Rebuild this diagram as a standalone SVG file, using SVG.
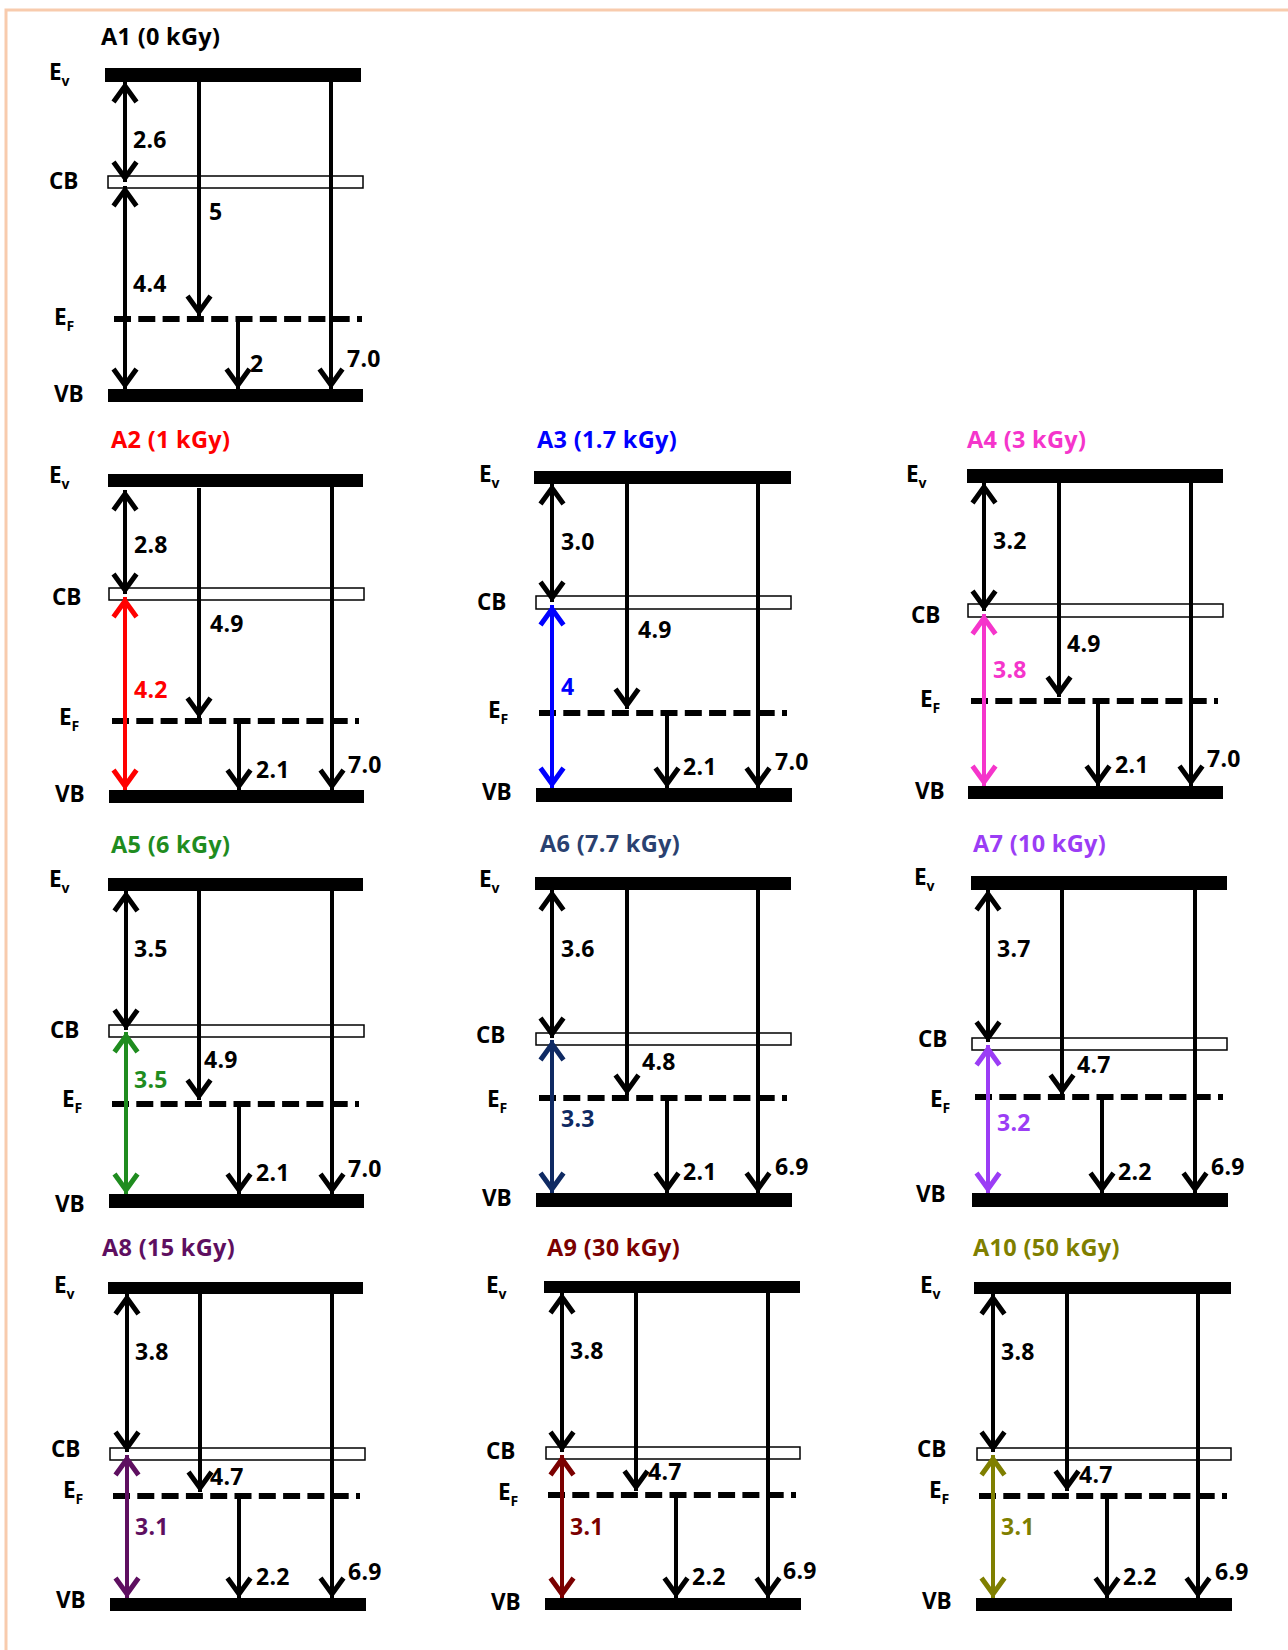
<svg xmlns="http://www.w3.org/2000/svg" width="1288" height="1650" viewBox="0 0 1288 1650">
<style>
.bg{fill:#fff}
.frame{fill:none;stroke:#F8CBAD;stroke-width:3}
.bar{fill:#000}
.cb{fill:#fff;stroke:#000;stroke-width:1.5}
.ef{stroke:#000;stroke-width:6;stroke-dasharray:17 7.3;fill:none}
text{font-family:'Open Sans','Noto Sans','Liberation Sans',sans-serif;font-weight:700;fill:#000}
.lbl{font-size:22.5px}
.sub{font-size:14px}
.ttl{font-size:23.5px;letter-spacing:0.3px}
.val{font-size:23px;letter-spacing:0.3px}
.ar{stroke-width:4;fill:none}
.hd{fill:none;stroke-width:5}
</style>
<defs>
<marker id="mk" viewBox="-24 -14 28 28" refX="0" refY="0" markerWidth="28" markerHeight="28" markerUnits="userSpaceOnUse" orient="auto-start-reverse" overflow="visible"><path class="hd" d="M-20,-11.5 L-4,0 L-20,11.5" stroke="#000"/></marker>
<marker id="mr" viewBox="-24 -14 28 28" refX="0" refY="0" markerWidth="28" markerHeight="28" markerUnits="userSpaceOnUse" orient="auto-start-reverse" overflow="visible"><path class="hd" d="M-20,-11.5 L-4,0 L-20,11.5" stroke="#FF0000"/></marker>
<marker id="mb" viewBox="-24 -14 28 28" refX="0" refY="0" markerWidth="28" markerHeight="28" markerUnits="userSpaceOnUse" orient="auto-start-reverse" overflow="visible"><path class="hd" d="M-20,-11.5 L-4,0 L-20,11.5" stroke="#0000FF"/></marker>
<marker id="mm" viewBox="-24 -14 28 28" refX="0" refY="0" markerWidth="28" markerHeight="28" markerUnits="userSpaceOnUse" orient="auto-start-reverse" overflow="visible"><path class="hd" d="M-20,-11.5 L-4,0 L-20,11.5" stroke="#F535CB"/></marker>
<marker id="mg" viewBox="-24 -14 28 28" refX="0" refY="0" markerWidth="28" markerHeight="28" markerUnits="userSpaceOnUse" orient="auto-start-reverse" overflow="visible"><path class="hd" d="M-20,-11.5 L-4,0 L-20,11.5" stroke="#1F8C1F"/></marker>
<marker id="mn" viewBox="-24 -14 28 28" refX="0" refY="0" markerWidth="28" markerHeight="28" markerUnits="userSpaceOnUse" orient="auto-start-reverse" overflow="visible"><path class="hd" d="M-20,-11.5 L-4,0 L-20,11.5" stroke="#0F2A63"/></marker>
<marker id="mp" viewBox="-24 -14 28 28" refX="0" refY="0" markerWidth="28" markerHeight="28" markerUnits="userSpaceOnUse" orient="auto-start-reverse" overflow="visible"><path class="hd" d="M-20,-11.5 L-4,0 L-20,11.5" stroke="#9B3DF5"/></marker>
<marker id="mdp" viewBox="-24 -14 28 28" refX="0" refY="0" markerWidth="28" markerHeight="28" markerUnits="userSpaceOnUse" orient="auto-start-reverse" overflow="visible"><path class="hd" d="M-20,-11.5 L-4,0 L-20,11.5" stroke="#5E0F60"/></marker>
<marker id="mdr" viewBox="-24 -14 28 28" refX="0" refY="0" markerWidth="28" markerHeight="28" markerUnits="userSpaceOnUse" orient="auto-start-reverse" overflow="visible"><path class="hd" d="M-20,-11.5 L-4,0 L-20,11.5" stroke="#7B0000"/></marker>
<marker id="mo" viewBox="-24 -14 28 28" refX="0" refY="0" markerWidth="28" markerHeight="28" markerUnits="userSpaceOnUse" orient="auto-start-reverse" overflow="visible"><path class="hd" d="M-20,-11.5 L-4,0 L-20,11.5" stroke="#7F7F00"/></marker>
</defs>
<rect class="bg" x="0" y="0" width="1288" height="1650"/>
<rect class="frame" x="6" y="10" width="1300" height="1660"/>

<!-- A1 -->
<g id="a1">
<text class="ttl" x="101" y="45">A1 (0 kGy)</text>
<g id="a1-ev"><rect class="bar" x="105" y="68" width="256" height="14"/><text class="lbl" x="49" y="80">E<tspan class="sub" dy="6">v</tspan></text></g>
<g id="a1-cb"><rect class="cb" x="108" y="176" width="255" height="12"/><text class="lbl" x="49" y="189">CB</text></g>
<g id="a1-ef"><line class="ef" x1="114" y1="319" x2="362" y2="319"/><text class="lbl" x="54" y="325">E<tspan class="sub" dy="6">F</tspan></text></g>
<g id="a1-vb"><rect class="bar" x="108" y="389" width="255" height="13"/><text class="lbl" x="54" y="402">VB</text></g>
</g>
<!-- A2 -->
<g id="a2">
<text class="ttl" x="111" y="448" style="fill:#FF0000">A2 (1 kGy)</text>
<g id="a2-ev"><rect class="bar" x="108" y="474" width="255" height="13"/><text class="lbl" x="49" y="483">E<tspan class="sub" dy="6">v</tspan></text></g>
<g id="a2-cb"><rect class="cb" x="109" y="588" width="255" height="12"/><text class="lbl" x="52" y="605">CB</text></g>
<g id="a2-ef"><line class="ef" x1="112" y1="721" x2="359" y2="721"/><text class="lbl" x="59" y="725">E<tspan class="sub" dy="6">F</tspan></text></g>
<g id="a2-vb"><rect class="bar" x="109" y="790" width="255" height="13"/><text class="lbl" x="55" y="802">VB</text></g>
</g>
<!-- A3 -->
<g id="a3">
<text class="ttl" x="537" y="448" style="fill:#0000FF">A3 (1.7 kGy)</text>
<g id="a3-ev"><rect class="bar" x="534" y="471" width="257" height="13"/><text class="lbl" x="479" y="482">E<tspan class="sub" dy="6">v</tspan></text></g>
<g id="a3-cb"><rect class="cb" x="536" y="596" width="255" height="13"/><text class="lbl" x="477" y="610">CB</text></g>
<g id="a3-ef"><line class="ef" x1="539" y1="713" x2="787" y2="713"/><text class="lbl" x="488" y="718">E<tspan class="sub" dy="6">F</tspan></text></g>
<g id="a3-vb"><rect class="bar" x="536" y="788" width="256" height="14"/><text class="lbl" x="482" y="800">VB</text></g>
</g>
<!-- A4 -->
<g id="a4">
<text class="ttl" x="967" y="448" style="fill:#F535CB">A4 (3 kGy)</text>
<g id="a4-ev"><rect class="bar" x="967" y="469" width="256" height="14"/><text class="lbl" x="906" y="482">E<tspan class="sub" dy="6">v</tspan></text></g>
<g id="a4-cb"><rect class="cb" x="968" y="604" width="255" height="13"/><text class="lbl" x="911" y="623">CB</text></g>
<g id="a4-ef"><line class="ef" x1="971" y1="701" x2="1218" y2="701"/><text class="lbl" x="920" y="707">E<tspan class="sub" dy="6">F</tspan></text></g>
<g id="a4-vb"><rect class="bar" x="968" y="786" width="255" height="13"/><text class="lbl" x="915" y="799">VB</text></g>
</g>
<!-- A5 -->
<g id="a5">
<text class="ttl" x="111" y="853" style="fill:#1F8C1F">A5 (6 kGy)</text>
<g id="a5-ev"><rect class="bar" x="108" y="878" width="255" height="13"/><text class="lbl" x="49" y="887">E<tspan class="sub" dy="6">v</tspan></text></g>
<g id="a5-cb"><rect class="cb" x="109" y="1025" width="255" height="12"/><text class="lbl" x="50" y="1038">CB</text></g>
<g id="a5-ef"><line class="ef" x1="112" y1="1104" x2="359" y2="1104"/><text class="lbl" x="62" y="1107">E<tspan class="sub" dy="6">F</tspan></text></g>
<g id="a5-vb"><rect class="bar" x="109" y="1194" width="255" height="14"/><text class="lbl" x="55" y="1212">VB</text></g>
</g>
<!-- A6 -->
<g id="a6">
<text class="ttl" x="540" y="852" style="fill:#2A4170">A6 (7.7 kGy)</text>
<g id="a6-ev"><rect class="bar" x="535" y="877" width="256" height="13"/><text class="lbl" x="479" y="887">E<tspan class="sub" dy="6">v</tspan></text></g>
<g id="a6-cb"><rect class="cb" x="536" y="1033" width="255" height="12"/><text class="lbl" x="476" y="1043">CB</text></g>
<g id="a6-ef"><line class="ef" x1="539" y1="1098" x2="787" y2="1098"/><text class="lbl" x="487" y="1107">E<tspan class="sub" dy="6">F</tspan></text></g>
<g id="a6-vb"><rect class="bar" x="536" y="1193" width="256" height="14"/><text class="lbl" x="482" y="1206">VB</text></g>
</g>
<!-- A7 -->
<g id="a7">
<text class="ttl" x="973" y="852" style="fill:#9B3DF5">A7 (10 kGy)</text>
<g id="a7-ev"><rect class="bar" x="971" y="876" width="256" height="14"/><text class="lbl" x="914" y="885">E<tspan class="sub" dy="6">v</tspan></text></g>
<g id="a7-cb"><rect class="cb" x="972" y="1038" width="255" height="12"/><text class="lbl" x="918" y="1047">CB</text></g>
<g id="a7-ef"><line class="ef" x1="975" y1="1097" x2="1223" y2="1097"/><text class="lbl" x="930" y="1107">E<tspan class="sub" dy="6">F</tspan></text></g>
<g id="a7-vb"><rect class="bar" x="972" y="1193" width="256" height="14"/><text class="lbl" x="916" y="1202">VB</text></g>
</g>
<!-- A8 -->
<g id="a8">
<text class="ttl" x="102" y="1256" style="fill:#5E0F60">A8 (15 kGy)</text>
<g id="a8-ev"><rect class="bar" x="108" y="1282" width="255" height="12"/><text class="lbl" x="54" y="1293">E<tspan class="sub" dy="6">v</tspan></text></g>
<g id="a8-cb"><rect class="cb" x="110" y="1448" width="255" height="12"/><text class="lbl" x="51" y="1457">CB</text></g>
<g id="a8-ef"><line class="ef" x1="113" y1="1496" x2="360" y2="1496"/><text class="lbl" x="63" y="1498">E<tspan class="sub" dy="6">F</tspan></text></g>
<g id="a8-vb"><rect class="bar" x="110" y="1598" width="256" height="13"/><text class="lbl" x="56" y="1608">VB</text></g>
</g>
<!-- A9 -->
<g id="a9">
<text class="ttl" x="547" y="1256" style="fill:#7B0000">A9 (30 kGy)</text>
<g id="a9-ev"><rect class="bar" x="544" y="1281" width="256" height="12"/><text class="lbl" x="486" y="1293">E<tspan class="sub" dy="6">v</tspan></text></g>
<g id="a9-cb"><rect class="cb" x="546" y="1447" width="254" height="12"/><text class="lbl" x="486" y="1459">CB</text></g>
<g id="a9-ef"><line class="ef" x1="548" y1="1495" x2="796" y2="1495"/><text class="lbl" x="498" y="1500">E<tspan class="sub" dy="6">F</tspan></text></g>
<g id="a9-vb"><rect class="bar" x="545" y="1598" width="256" height="12"/><text class="lbl" x="491" y="1610">VB</text></g>
</g>
<!-- A10 -->
<g id="a10">
<text class="ttl" x="973" y="1256" style="fill:#7F7F00">A10 (50 kGy)</text>
<g id="a10-ev"><rect class="bar" x="974" y="1282" width="257" height="12"/><text class="lbl" x="920" y="1293">E<tspan class="sub" dy="6">v</tspan></text></g>
<g id="a10-cb"><rect class="cb" x="977" y="1448" width="254" height="12"/><text class="lbl" x="917" y="1457">CB</text></g>
<g id="a10-ef"><line class="ef" x1="979" y1="1496" x2="1227" y2="1496"/><text class="lbl" x="929" y="1498">E<tspan class="sub" dy="6">F</tspan></text></g>
<g id="a10-vb"><rect class="bar" x="976" y="1598" width="256" height="13"/><text class="lbl" x="922" y="1609">VB</text></g>
</g>

<g id="connectors">
<!-- A1 -->
<line class="ar" x1="125" y1="82" x2="125" y2="182" stroke="#000" marker-start="url(#mk)" marker-end="url(#mk)"/>
<line class="ar" x1="125" y1="186" x2="125" y2="389" stroke="#000" marker-start="url(#mk)" marker-end="url(#mk)"/>
<line class="ar" x1="199" y1="82" x2="199" y2="316" stroke="#000" marker-end="url(#mk)"/>
<line class="ar" x1="238" y1="320" x2="238" y2="389" stroke="#000" marker-end="url(#mk)"/>
<line class="ar" x1="331" y1="82" x2="331" y2="389" stroke="#000" marker-end="url(#mk)"/>
<!-- A2 -->
<line class="ar" x1="125" y1="490" x2="125" y2="594" stroke="#000" marker-start="url(#mk)" marker-end="url(#mk)"/>
<line class="ar" x1="125" y1="597" x2="125" y2="790" stroke="#FF0000" marker-start="url(#mr)" marker-end="url(#mr)"/>
<line class="ar" x1="199" y1="488" x2="199" y2="718" stroke="#000" marker-end="url(#mk)"/>
<line class="ar" x1="239" y1="721" x2="239" y2="790" stroke="#000" marker-end="url(#mk)"/>
<line class="ar" x1="332" y1="487" x2="332" y2="790" stroke="#000" marker-end="url(#mk)"/>
<!-- A3 -->
<line class="ar" x1="552" y1="484" x2="552" y2="602" stroke="#000" marker-start="url(#mk)" marker-end="url(#mk)"/>
<line class="ar" x1="552" y1="605" x2="552" y2="788" stroke="#0000FF" marker-start="url(#mb)" marker-end="url(#mb)"/>
<line class="ar" x1="627" y1="484" x2="627" y2="709" stroke="#000" marker-end="url(#mk)"/>
<line class="ar" x1="667" y1="713" x2="667" y2="788" stroke="#000" marker-end="url(#mk)"/>
<line class="ar" x1="758" y1="484" x2="758" y2="788" stroke="#000" marker-end="url(#mk)"/>
<!-- A4 -->
<line class="ar" x1="984" y1="483" x2="984" y2="611" stroke="#000" marker-start="url(#mk)" marker-end="url(#mk)"/>
<line class="ar" x1="984" y1="614" x2="984" y2="786" stroke="#F535CB" marker-start="url(#mm)" marker-end="url(#mm)"/>
<line class="ar" x1="1059" y1="483" x2="1059" y2="697" stroke="#000" marker-end="url(#mk)"/>
<line class="ar" x1="1098" y1="701" x2="1098" y2="786" stroke="#000" marker-end="url(#mk)"/>
<line class="ar" x1="1191" y1="483" x2="1191" y2="786" stroke="#000" marker-end="url(#mk)"/>
<!-- A5 -->
<line class="ar" x1="126" y1="891" x2="126" y2="1030" stroke="#000" marker-start="url(#mk)" marker-end="url(#mk)"/>
<line class="ar" x1="126" y1="1032" x2="126" y2="1194" stroke="#1F8C1F" marker-start="url(#mg)" marker-end="url(#mg)"/>
<line class="ar" x1="199" y1="891" x2="199" y2="1100" stroke="#000" marker-end="url(#mk)"/>
<line class="ar" x1="239" y1="1104" x2="239" y2="1194" stroke="#000" marker-end="url(#mk)"/>
<line class="ar" x1="332" y1="891" x2="332" y2="1194" stroke="#000" marker-end="url(#mk)"/>
<!-- A6 -->
<line class="ar" x1="552" y1="890" x2="552" y2="1038" stroke="#000" marker-start="url(#mk)" marker-end="url(#mk)"/>
<line class="ar" x1="552" y1="1040" x2="552" y2="1193" stroke="#0F2A63" marker-start="url(#mn)" marker-end="url(#mn)"/>
<line class="ar" x1="627" y1="890" x2="627" y2="1095" stroke="#000" marker-end="url(#mk)"/>
<line class="ar" x1="667" y1="1098" x2="667" y2="1193" stroke="#000" marker-end="url(#mk)"/>
<line class="ar" x1="758" y1="890" x2="758" y2="1193" stroke="#000" marker-end="url(#mk)"/>
<!-- A7 -->
<line class="ar" x1="988" y1="890" x2="988" y2="1042" stroke="#000" marker-start="url(#mk)" marker-end="url(#mk)"/>
<line class="ar" x1="988" y1="1045" x2="988" y2="1193" stroke="#9B3DF5" marker-start="url(#mp)" marker-end="url(#mp)"/>
<line class="ar" x1="1062" y1="890" x2="1062" y2="1095" stroke="#000" marker-end="url(#mk)"/>
<line class="ar" x1="1102" y1="1097" x2="1102" y2="1193" stroke="#000" marker-end="url(#mk)"/>
<line class="ar" x1="1195" y1="890" x2="1195" y2="1193" stroke="#000" marker-end="url(#mk)"/>
<!-- A8 -->
<line class="ar" x1="127" y1="1294" x2="127" y2="1452" stroke="#000" marker-start="url(#mk)" marker-end="url(#mk)"/>
<line class="ar" x1="127" y1="1455" x2="127" y2="1598" stroke="#5E0F60" marker-start="url(#mdp)" marker-end="url(#mdp)"/>
<line class="ar" x1="200" y1="1294" x2="200" y2="1492" stroke="#000" marker-end="url(#mk)"/>
<line class="ar" x1="239" y1="1496" x2="239" y2="1598" stroke="#000" marker-end="url(#mk)"/>
<line class="ar" x1="332" y1="1294" x2="332" y2="1598" stroke="#000" marker-end="url(#mk)"/>
<!-- A9 -->
<line class="ar" x1="562" y1="1293" x2="562" y2="1452" stroke="#000" marker-start="url(#mk)" marker-end="url(#mk)"/>
<line class="ar" x1="562" y1="1455" x2="562" y2="1598" stroke="#7B0000" marker-start="url(#mdr)" marker-end="url(#mdr)"/>
<line class="ar" x1="636" y1="1293" x2="636" y2="1491" stroke="#000" marker-end="url(#mk)"/>
<line class="ar" x1="676" y1="1495" x2="676" y2="1598" stroke="#000" marker-end="url(#mk)"/>
<line class="ar" x1="768" y1="1293" x2="768" y2="1598" stroke="#000" marker-end="url(#mk)"/>
<!-- A10 -->
<line class="ar" x1="993" y1="1294" x2="993" y2="1452" stroke="#000" marker-start="url(#mk)" marker-end="url(#mk)"/>
<line class="ar" x1="993" y1="1455" x2="993" y2="1598" stroke="#7F7F00" marker-start="url(#mo)" marker-end="url(#mo)"/>
<line class="ar" x1="1067" y1="1294" x2="1067" y2="1491" stroke="#000" marker-end="url(#mk)"/>
<line class="ar" x1="1107" y1="1496" x2="1107" y2="1598" stroke="#000" marker-end="url(#mk)"/>
<line class="ar" x1="1198" y1="1294" x2="1198" y2="1598" stroke="#000" marker-end="url(#mk)"/>
</g>

<g id="values">
<text class="val" x="133" y="148">2.6</text>
<text class="val" x="133" y="292">4.4</text>
<text class="val" x="209" y="220">5</text>
<text class="val" x="250" y="372">2</text>
<text class="val" x="347" y="367">7.0</text>

<text class="val" x="134" y="553">2.8</text>
<text class="val" x="134" y="698" style="fill:#FF0000">4.2</text>
<text class="val" x="210" y="632">4.9</text>
<text class="val" x="256" y="778">2.1</text>
<text class="val" x="348" y="773">7.0</text>

<text class="val" x="561" y="550">3.0</text>
<text class="val" x="561" y="695" style="fill:#0000FF">4</text>
<text class="val" x="638" y="638">4.9</text>
<text class="val" x="683" y="775">2.1</text>
<text class="val" x="775" y="770">7.0</text>

<text class="val" x="993" y="549">3.2</text>
<text class="val" x="993" y="678" style="fill:#F535CB">3.8</text>
<text class="val" x="1067" y="652">4.9</text>
<text class="val" x="1115" y="773">2.1</text>
<text class="val" x="1207" y="767">7.0</text>

<text class="val" x="134" y="957">3.5</text>
<text class="val" x="134" y="1088" style="fill:#1F8C1F">3.5</text>
<text class="val" x="204" y="1068">4.9</text>
<text class="val" x="256" y="1181">2.1</text>
<text class="val" x="348" y="1177">7.0</text>

<text class="val" x="561" y="957">3.6</text>
<text class="val" x="561" y="1127" style="fill:#0F2A63">3.3</text>
<text class="val" x="642" y="1070">4.8</text>
<text class="val" x="683" y="1180">2.1</text>
<text class="val" x="775" y="1175">6.9</text>

<text class="val" x="997" y="957">3.7</text>
<text class="val" x="997" y="1131" style="fill:#9B3DF5">3.2</text>
<text class="val" x="1077" y="1073">4.7</text>
<text class="val" x="1118" y="1180">2.2</text>
<text class="val" x="1211" y="1175">6.9</text>

<text class="val" x="135" y="1360">3.8</text>
<text class="val" x="135" y="1535" style="fill:#5E0F60">3.1</text>
<text class="val" x="210" y="1485">4.7</text>
<text class="val" x="256" y="1585">2.2</text>
<text class="val" x="348" y="1580">6.9</text>

<text class="val" x="570" y="1359">3.8</text>
<text class="val" x="570" y="1535" style="fill:#7B0000">3.1</text>
<text class="val" x="648" y="1480">4.7</text>
<text class="val" x="692" y="1585">2.2</text>
<text class="val" x="783" y="1579">6.9</text>

<text class="val" x="1001" y="1360">3.8</text>
<text class="val" x="1001" y="1535" style="fill:#7F7F00">3.1</text>
<text class="val" x="1079" y="1483">4.7</text>
<text class="val" x="1123" y="1585">2.2</text>
<text class="val" x="1215" y="1580">6.9</text>
</g>
</svg>
